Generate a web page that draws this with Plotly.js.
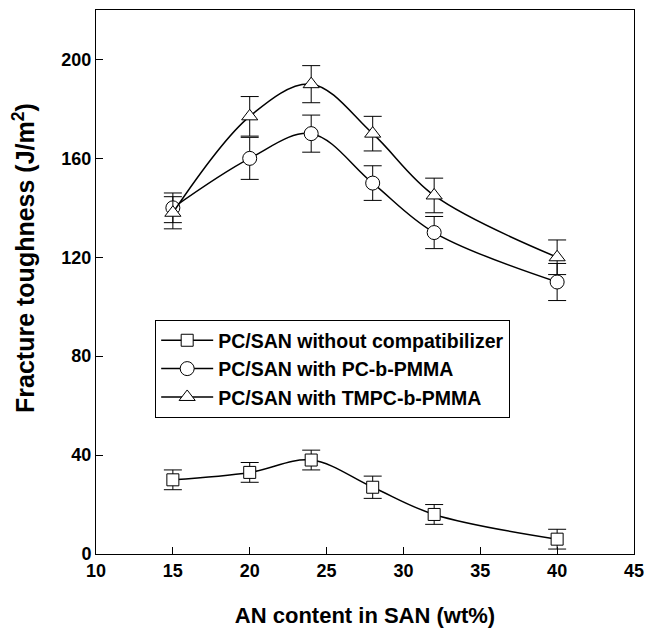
<!DOCTYPE html>
<html>
<head>
<meta charset="utf-8">
<script src="https://cdn.plot.ly/plotly-3.0.1.min.js"></script>
<style>html,body{margin:0;padding:0;background:#fff;}#chart{width:652px;height:631px;}</style>
</head>
<body>
<div id="chart"></div>
<script>
const anContent = [15, 20, 24, 28, 32, 40];
const noCompat = [30, 33, 38, 27, 16, 6];
const noCompatErr = [4, 4, 4, 4.5, 4, 4];
const pcPmma = [140, 160, 170, 150, 130, 110];
const pcPmmaErr = [6, 8.5, 7.5, 7, 6.5, 7.5];
const tmpcPmma = [138, 177, 190, 170, 145, 120];
const tmpcPmmaErr = [6.5, 8, 7.5, 7, 7, 7];
const seriesNames = ["PC/SAN without compatibilizer", "PC/SAN with PC-b-PMMA", "PC/SAN with TMPC-b-PMMA"];
const yTitle = 'Fracture toughness (J/m<sup>2</sup>)';
const xTitle = 'AN content in SAN (wt%)';

function trace(y, err, name, symbol, size) {
  return {
    x: anContent, y: y, name: name, type: 'scatter', mode: 'lines+markers',
    line: {color: '#000', width: 1.5, shape: 'spline', smoothing: 1},
    marker: {symbol: symbol, size: size, color: '#fff', line: {color: '#000', width: 1}},
    error_y: {type: 'data', array: err, visible: true, color: '#000', thickness: 1, width: 9},
    cliponaxis: false
  };
}
const data = [
  trace(noCompat, noCompatErr, seriesNames[0], 'square', 12),
  trace(pcPmma, pcPmmaErr, seriesNames[1], 'circle', 14),
  trace(tmpcPmma, tmpcPmmaErr, seriesNames[2], 'triangle-up', 14)
];
const fam = 'Liberation Sans, Arial, sans-serif';
const layout = {
  width: 652, height: 631,
  margin: {l: 96, r: 18, t: 10, b: 77},
  paper_bgcolor: '#fff', plot_bgcolor: '#fff',
  font: {family: fam, color: '#000'},
  showlegend: true,
  legend: {
    x: 0.110, y: 0.430, xanchor: 'left', yanchor: 'top',
    bordercolor: '#000', borderwidth: 1, bgcolor: '#fff',
    font: {family: fam, size: 19.5, color: '#000', weight: 'bold'},
    tracegroupgap: 0, itemwidth: 52
  },
  xaxis: {
    range: [10, 45], tickvals: [10, 15, 20, 25, 30, 35, 40, 45],
    ticks: 'inside', ticklen: 7, tickwidth: 1, tickcolor: '#000',
    showline: true, linecolor: '#000', linewidth: 1, mirror: true,
    showgrid: false, zeroline: false,
    tickfont: {family: fam, size: 18, color: '#000', weight: 'bold'},
    title: {text: xTitle, font: {family: fam, size: 22, color: '#000', weight: 'bold'}, standoff: 28}
  },
  yaxis: {
    range: [0, 220], tickvals: [0, 40, 80, 120, 160, 200],
    ticks: 'inside', ticklen: 7, tickwidth: 1, tickcolor: '#000',
    showline: true, linecolor: '#000', linewidth: 1, mirror: true,
    showgrid: false, zeroline: false,
    tickfont: {family: fam, size: 18, color: '#000', weight: 'bold'}
  },
  annotations: [{
    text: yTitle, xref: 'paper', yref: 'paper', x: -0.134, y: 0.544,
    xanchor: 'center', yanchor: 'middle', textangle: -90, showarrow: false,
    font: {family: fam, size: 25, color: '#000', weight: 'bold'}
  }]
};
Plotly.newPlot('chart', data, layout, {displayModeBar: false, staticPlot: true});
</script>
</body>
</html>
